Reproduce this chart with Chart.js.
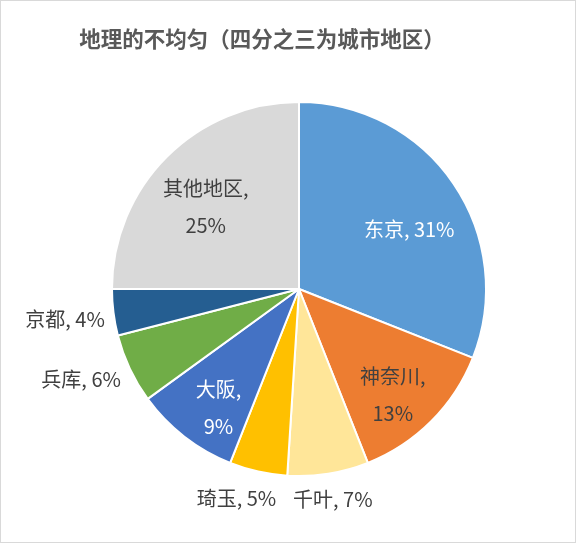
<!DOCTYPE html>
<html><head><meta charset="utf-8">
<script src="https://cdn.jsdelivr.net/npm/chart.js@4.4.1/dist/chart.umd.min.js"></script>
<style>html,body{margin:0;padding:0;background:#fff}#wrap{width:576px;height:543px;position:relative}</style>
</head><body><div id="wrap"><canvas id="c"></canvas></div>
<script>
const categories = ['东京', '神奈川', '千叶', '琦玉', '大阪', '兵库', '京都', '其他地区'];
const shares = [31, 13, 7, 5, 9, 6, 4, 25];
const titleText = '地理的不均匀（四分之三为城市地区）';

const sliceColors = ['#5B9BD5', '#ED7D31', '#FFE699', '#FFC000', '#4472C4', '#70AD47', '#255E91', '#D9D9D9'];
// label layout: radius fraction, angle nudge (deg), text colour, split into two lines
const labelLayout = [
  { f: 0.67, da: 5.8, color: '#FFFFFF', split: false },
  { f: 0.755, da: 3.4, color: '#404040', split: true },
  { f: 1.137, da: -0.15, color: '#404040', split: false },
  { f: 1.17, da: 4.0, color: '#404040', split: false },
  { f: 0.766, da: -3.6, color: '#FFFFFF', split: true },
  { f: 1.262, da: 2.6, color: '#404040', split: false },
  { f: 1.262, da: -0.3, color: '#404040', split: false },
  { f: 0.665, da: -3.6, color: '#404040', split: true }
];
const FONT = '"Noto Sans CJK SC", "Noto Sans", sans-serif';

const labelPlugin = {
  id: 'sliceLabels',
  afterDatasetsDraw(chart) {
    const ctx = chart.ctx;
    const meta = chart.getDatasetMeta(0);
    ctx.save();
    ctx.font = '20px ' + FONT;
    ctx.textAlign = 'center';
    ctx.textBaseline = 'middle';
    meta.data.forEach((arc, i) => {
      const p = arc.getProps(['x', 'y', 'startAngle', 'endAngle', 'outerRadius'], true);
      const lay = labelLayout[i];
      const mid = (p.startAngle + p.endAngle) / 2 + lay.da * Math.PI / 180;
      const r = p.outerRadius * lay.f;
      const cx = p.x + Math.cos(mid) * r;
      const cy = p.y + Math.sin(mid) * r;
      ctx.fillStyle = lay.color;
      const val = shares[i] + '%';
      if (lay.split) {
        ctx.fillText(categories[i] + ',', cx, cy - 18.5);
        ctx.fillText(val, cx, cy + 18.5);
      } else {
        ctx.fillText(categories[i] + ', ' + val, cx, cy);
      }
    });
    ctx.restore();
  },
  afterDraw(chart) {
    const ctx = chart.ctx;
    ctx.save();
    ctx.font = 'bold 21.5px ' + FONT;
    ctx.fillStyle = '#595959';
    ctx.textAlign = 'center';
    ctx.textBaseline = 'middle';
    ctx.fillText(titleText, 262, 39);
    ctx.strokeStyle = '#D9D9D9';
    ctx.lineWidth = 1;
    ctx.strokeRect(0.5, 0.5, chart.width - 1, chart.height - 1);
    ctx.restore();
  }
};

new Chart(document.getElementById('c'), {
  type: 'pie',
  data: {
    labels: categories,
    datasets: [{
      data: shares,
      backgroundColor: sliceColors,
      borderColor: '#FFFFFF',
      borderWidth: 2
    }]
  },
  options: {
    responsive: true,
    maintainAspectRatio: false,
    animation: false,
    layout: { padding: { top: 101, bottom: 66, left: 22, right: 0 } },
    plugins: {
      legend: { display: false },
      title: { display: false },
      tooltip: { enabled: false }
    }
  },
  plugins: [labelPlugin]
});
</script>
</body></html>
